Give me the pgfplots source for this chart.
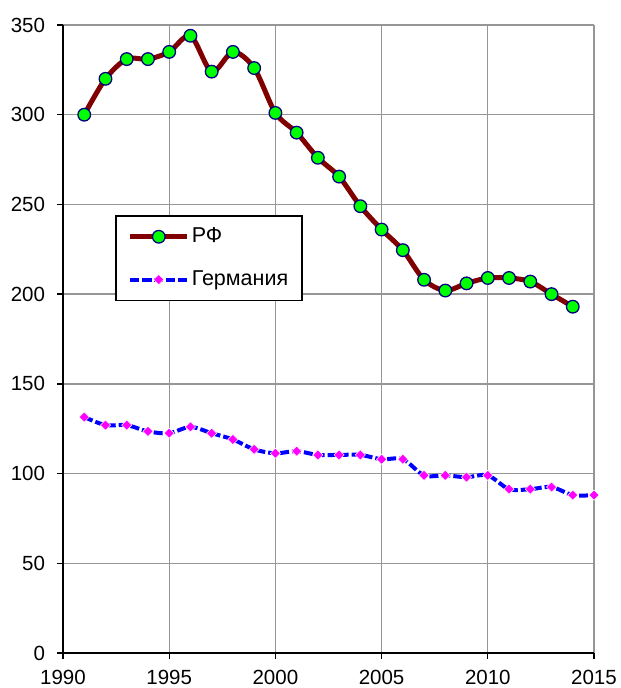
\documentclass[border=0pt]{standalone}
\usepackage{fontspec}
\setmainfont{Liberation Sans}
\usepackage{pgfplots}
\pgfplotsset{compat=1.18}
\definecolor{gridgray}{RGB}{150,150,150}
\definecolor{rfred}{RGB}{128,0,0}
\definecolor{rfgreen}{RGB}{0,255,0}
\definecolor{rfnavy}{RGB}{0,0,128}
\definecolor{demag}{RGB}{255,0,255}
\definecolor{deblue}{RGB}{0,0,255}
\begin{document}
\fontsize{20.5}{24}\selectfont
\begin{tikzpicture}
\useasboundingbox (-63pt,-35pt) rectangle (558pt,653pt);
\begin{axis}[
  scale only axis, width=531pt, height=628pt,
  xmin=1990, xmax=2015, ymin=0, ymax=350,
  xtick={1990,1995,...,2015}, ytick={0,50,...,350},
  axis lines*=left,
  axis line style={black, line width=1.5pt},
  grid=major,
  major grid style={gridgray, line width=1.3pt},
  tick align=outside,
  major tick length=6pt,
  tick style={black, line width=1.3pt},
  /pgf/number format/1000 sep={},
  /pgf/number format/assume math mode=true,
  tick label style={font=\fontsize{20.5}{24}\selectfont},
  xticklabel style={yshift=-4pt},
  yticklabel style={xshift=-5pt},
  legend cell align=left,
  legend style={at={(axis cs:1992.45,244.1)}, anchor=north west,
    draw=black, line width=1.5pt, font=\fontsize{21.5}{25}\selectfont,
    inner xsep=12pt, inner ysep=11pt, row sep=23pt,
    nodes={inner xsep=2pt, inner ysep=1pt}},
  legend image code/.code={\draw[mark repeat=2,mark phase=2] plot coordinates {(0pt,0pt) (28.5pt,0pt) (57pt,0pt)};},
]
\addplot[rfred, line width=5pt, smooth, tension=0.5,
  mark=*, mark size=6.3pt, mark options={solid, fill=rfgreen, draw=rfnavy, line width=1.3pt}]
coordinates {
(1991,300) (1992,320) (1993,331) (1994,331) (1995,335) (1996,344) (1997,324)
(1998,335) (1999,326) (2000,301) (2001,290) (2002,276) (2003,265.5) (2004,249)
(2005,236) (2006,224.5) (2007,208) (2008,202) (2009,206) (2010,209) (2011,209)
(2012,207) (2013,200) (2014,193)
};
\addlegendentry{РФ}
\addplot[deblue, line width=4pt, smooth, tension=0.5, dash pattern=on 9pt off 3pt,
  mark=square*, mark size=3.6pt, mark options={solid, rotate=45, fill=demag, draw=white, line width=0.5pt}]
coordinates {
(1991,131.5) (1992,127) (1993,127) (1994,123.5) (1995,122.5) (1996,126) (1997,122.5)
(1998,119) (1999,113.5) (2000,111.3) (2001,112.5) (2002,110.4) (2003,110.4) (2004,110.4)
(2005,108) (2006,108) (2007,99) (2008,99) (2009,98) (2010,99) (2011,91.3)
(2012,91.3) (2013,92.5) (2014,88) (2015,88)
};
\addlegendentry{Германия}
\end{axis}
\end{tikzpicture}
\end{document}
